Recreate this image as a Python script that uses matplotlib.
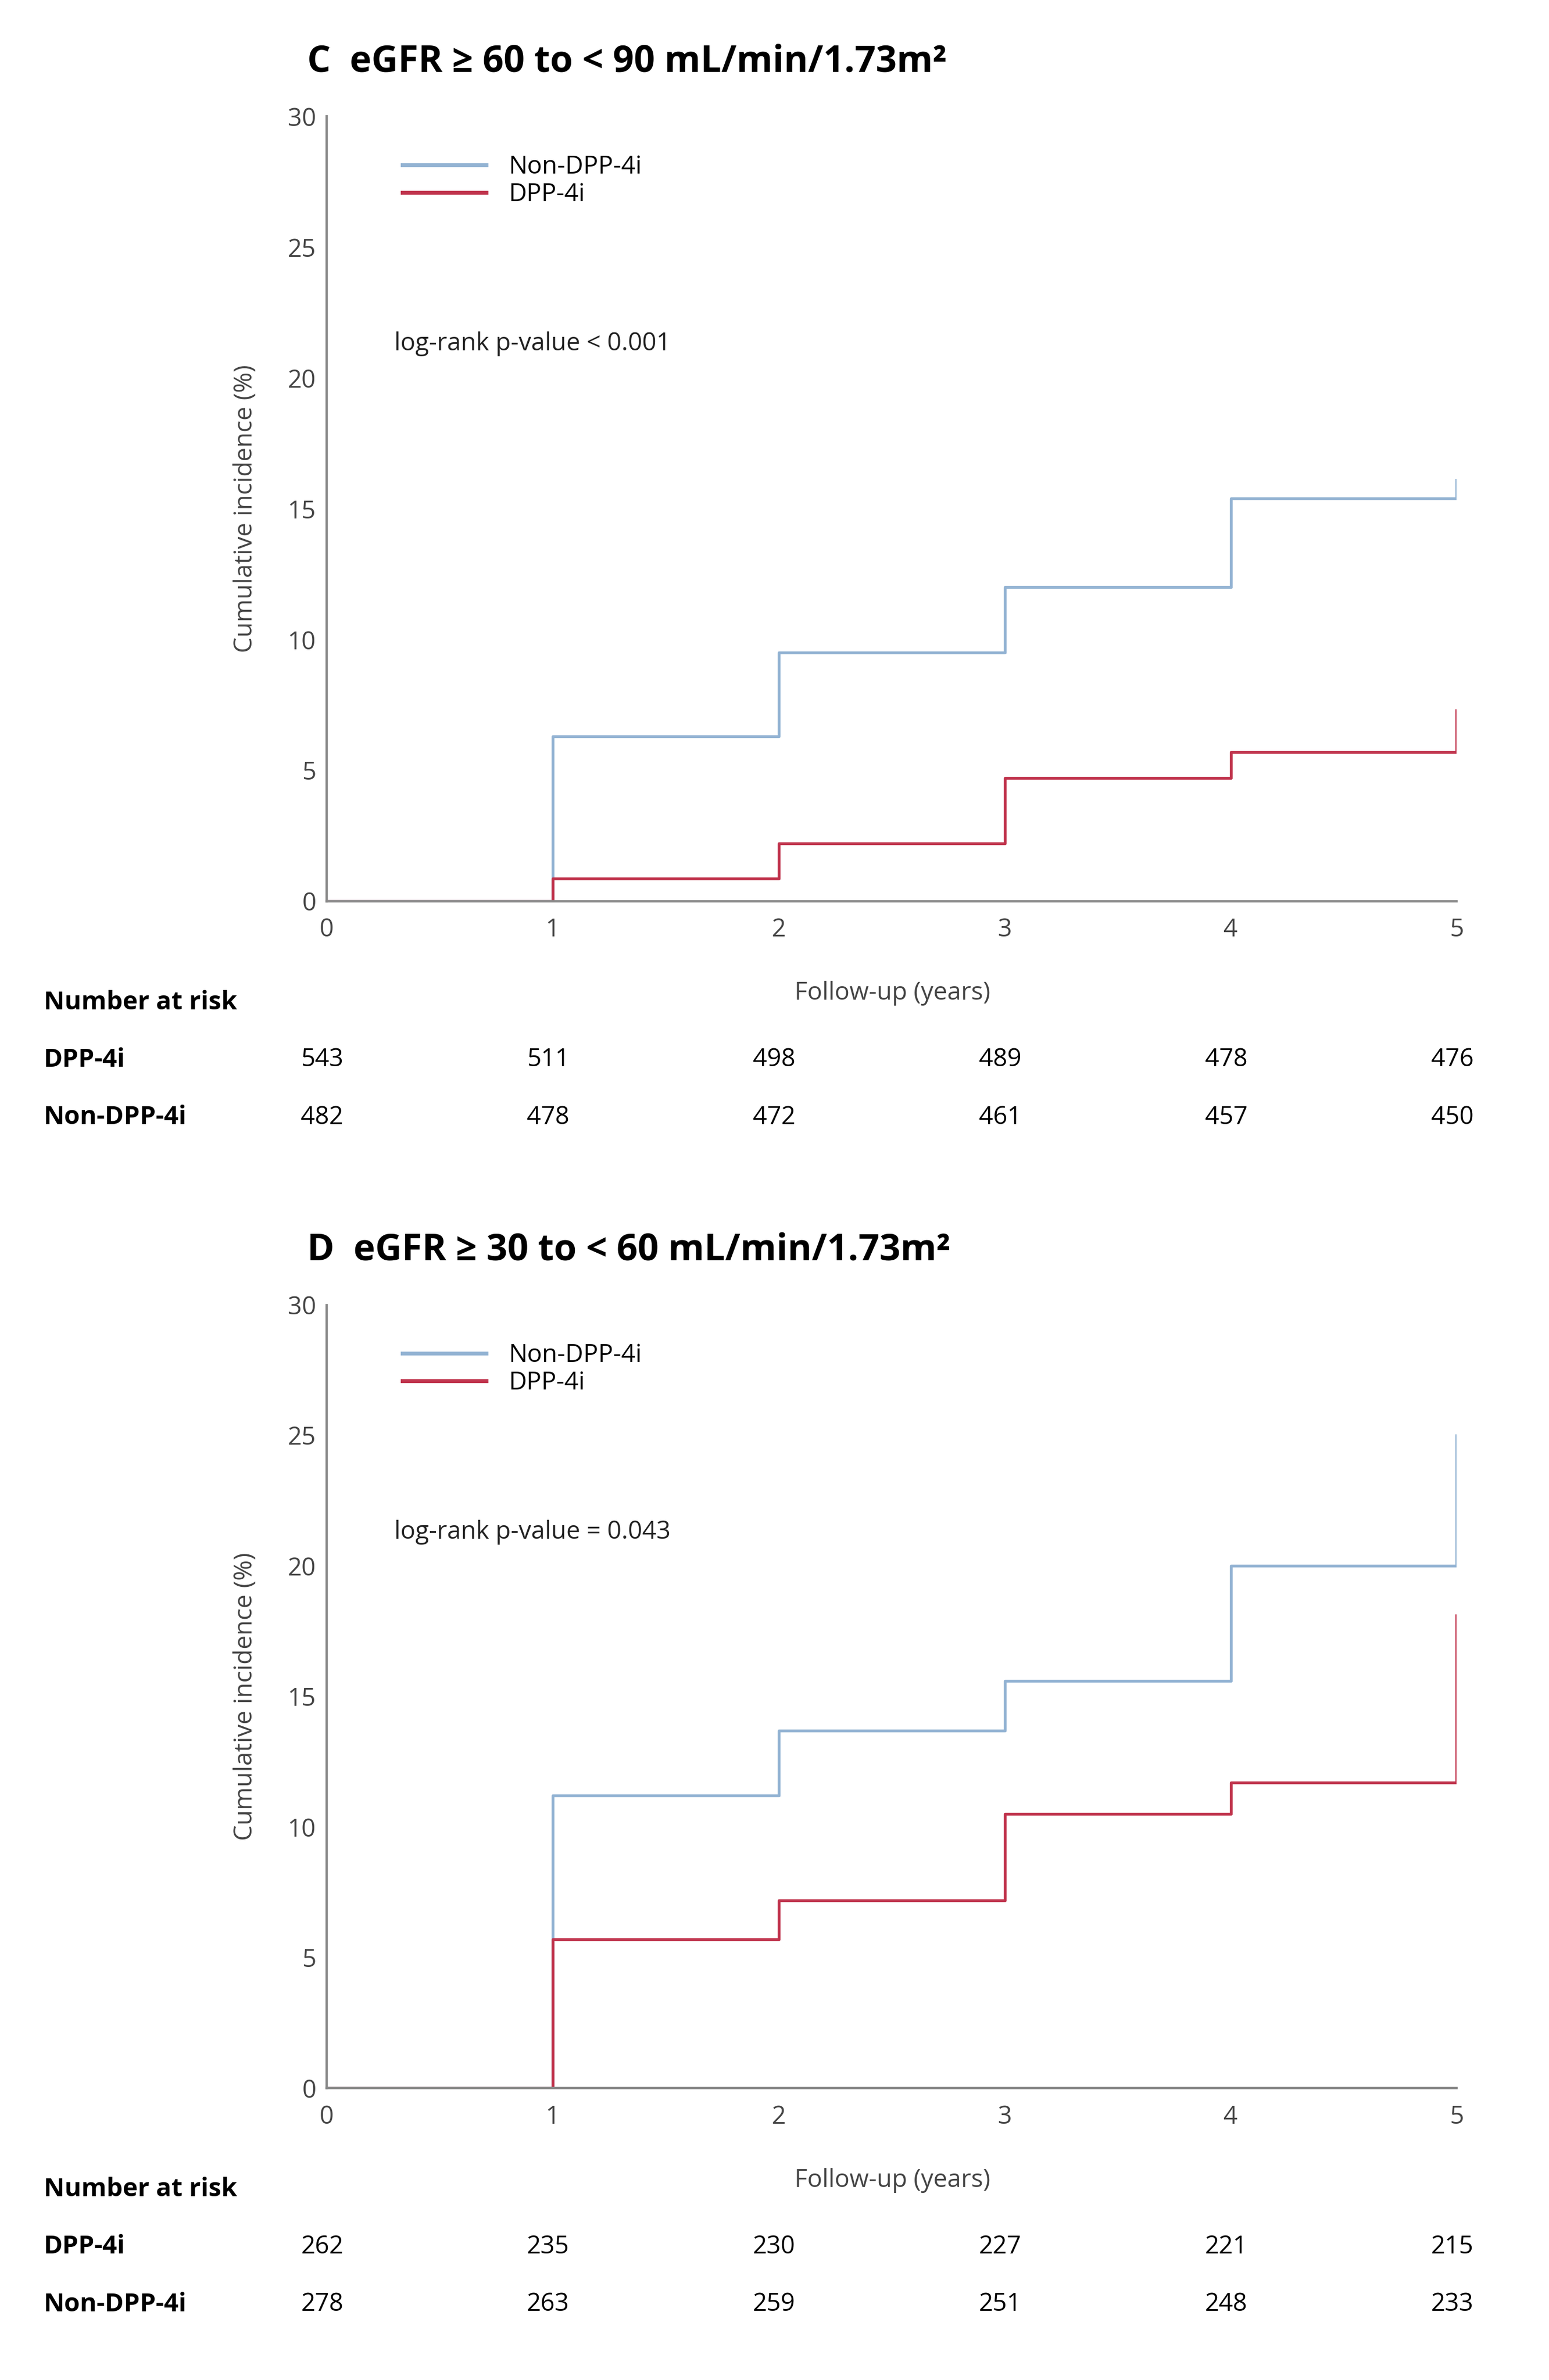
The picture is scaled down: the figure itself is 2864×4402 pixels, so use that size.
import matplotlib
matplotlib.use("Agg")
import matplotlib.pyplot as plt
import matplotlib.transforms as mtransforms

plt.rcParams['font.family'] = ['Open Sans', 'DejaVu Sans']

# follow-up years where the steps happen
years = [0, 1, 2, 3, 4, 5]

# panel C: eGFR >= 60 to < 90
c_non = [0, 6.3, 9.5, 12.0, 15.4, 15.4]
c_non_end = 16.1
c_dpp = [0, 0.87, 2.2, 4.7, 5.7, 5.7]
c_dpp_end = 7.3
c_risk_dpp = [543, 511, 498, 489, 478, 476]
c_risk_non = [482, 478, 472, 461, 457, 450]

# panel D: eGFR >= 30 to < 60
d_non = [0, 11.2, 13.7, 15.6, 20.0, 20.0]
d_non_end = 25.0
d_dpp = [0, 5.7, 7.2, 10.5, 11.7, 11.7]
d_dpp_end = 18.1
d_risk_dpp = [262, 235, 230, 227, 221, 215]
d_risk_non = [278, 263, 259, 251, 248, 233]

blue = '#93B3D3'
red = '#C0344D'
grey = '#8a8a8a'

W, H = 1024.0, 1574.0  # layout measured on a 1024 px wide copy


def fx(px):
    return px / W


def fy(py):
    return 1 - py / H


fig = plt.figure(figsize=(14.32, 22.01), dpi=200)


def panel(top_px, bot_px, title, non, non_end, dpp, dpp_end, pval, risk_dpp, risk_non):
    ax = fig.add_axes([fx(216), fy(bot_px), fx(963) - fx(216), fy(top_px) - fy(bot_px)])
    ax.step(years + [5], non + [non_end], where='post', color=blue, lw=1.9, label='Non-DPP-4i')
    ax.step(years + [5], dpp + [dpp_end], where='post', color=red, lw=1.9, label='DPP-4i')
    ax.set_xlim(0, 5)
    ax.set_ylim(0, 30)
    ax.set_xticks(years)
    ax.set_yticks([0, 5, 10, 15, 20, 25, 30])
    ax.tick_params(length=0, labelsize=16.5, colors='#444444')
    ax.tick_params(axis='x', pad=11)
    ax.tick_params(axis='y', pad=7)
    for s in ['top', 'right']:
        ax.spines[s].set_visible(False)
    for s in ['left', 'bottom']:
        ax.spines[s].set_color(grey)
        ax.spines[s].set_linewidth(1.6)
    ax.set_ylabel('Cumulative incidence (%)', fontsize=16.5, color='#444444', labelpad=20)
    leg = ax.legend(loc='upper left', bbox_to_anchor=(0.047, 0.98), frameon=False, fontsize=16.5,
                    handlelength=3.4, handletextpad=0.9, labelspacing=0.12)
    for ln in leg.get_lines():
        ln.set_linewidth(2.6)
    ax.text(0.3, 21.3, pval, fontsize=16.5, va='center', ha='left', color='#222222')

    fig.text(fx(203), fy(top_px - 36), title, fontsize=24.5, fontweight='bold', va='center', ha='left')
    fig.text(fx(590), fy(bot_px + 61), 'Follow-up (years)', fontsize=16.5, color='#444444',
             va='center', ha='center')

    trans = mtransforms.blended_transform_factory(ax.transData, fig.transFigure)
    fig.text(fx(29), fy(bot_px + 67), 'Number at risk', fontsize=17, fontweight='bold', va='center')
    fig.text(fx(29), fy(bot_px + 105), 'DPP-4i', fontsize=17, fontweight='bold', va='center')
    fig.text(fx(29), fy(bot_px + 143), 'Non-DPP-4i', fontsize=17, fontweight='bold', va='center')
    for x, a, b in zip(years, risk_dpp, risk_non):
        ax.text(x - 0.02, fy(bot_px + 105), str(a), transform=trans, fontsize=16.5, ha='center', va='center')
        ax.text(x - 0.02, fy(bot_px + 143), str(b), transform=trans, fontsize=16.5, ha='center', va='center')
    return ax


panel(77, 596, 'C  eGFR ≥ 60 to < 90 mL/min/1.73m²', c_non, c_non_end, c_dpp, c_dpp_end,
      'log-rank p-value < 0.001', c_risk_dpp, c_risk_non)
panel(863, 1381, 'D  eGFR ≥ 30 to < 60 mL/min/1.73m²', d_non, d_non_end, d_dpp, d_dpp_end,
      'log-rank p-value = 0.043', d_risk_dpp, d_risk_non)

fig.savefig('out.png', dpi=200, facecolor='white')
